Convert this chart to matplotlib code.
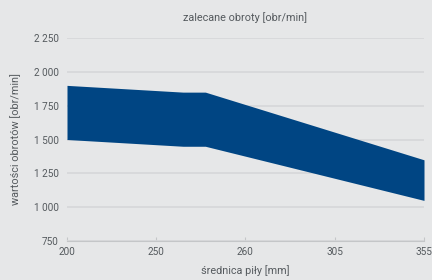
import matplotlib
matplotlib.use("Agg")
import matplotlib.pyplot as plt

# data
x_labels = ["200", "250", "260", "305", "355"]
x_points = [0, 1.3, 1.55, 4]
upper = [1900, 1850, 1850, 1350]
lower = [1500, 1450, 1450, 1050]
y_ticks = [750, 1000, 1250, 1500, 1750, 2000, 2250]

bg = "#e6e7e8"
fill_c = "#004583"
txt = "#555a5e"

plt.rcParams["font.family"] = ["Roboto", "DejaVu Sans"]

fig = plt.figure(figsize=(4.32, 2.80), dpi=100, facecolor=bg)
ax = fig.add_axes([67/432, 1-241/280, (424-67)/432, (241-38)/280], facecolor=bg)

ax.fill_between(x_points, lower, upper, color=fill_c, linewidth=0, zorder=3)

ax.set_xlim(0, 4)
ax.set_ylim(750, 2250)
ax.set_yticks(y_ticks)
ax.set_yticklabels([f"{v:,}".replace(",", " ") for v in y_ticks])
ax.set_xticks(range(len(x_labels)))
ax.set_xticklabels(x_labels)

for s in ["top", "right", "left"]:
    ax.spines[s].set_visible(False)
ax.spines["bottom"].set_color("#c4c6c8")
ax.spines["bottom"].set_linewidth(0.8)
ax.grid(axis="y", color="#d6d7d9", linewidth=1.2, zorder=0)
ax.set_axisbelow(True)
ax.tick_params(axis="y", length=0, labelsize=7.2, colors=txt, pad=6)
ax.tick_params(axis="x", direction="in", length=3, color="#c4c6c8", labelsize=7.2, labelcolor=txt, pad=4)

ax.set_title("zalecane obroty [obr/min]", fontsize=7.8, color=txt, pad=12)
ax.set_xlabel("średnica piły [mm]", fontsize=7.8, color=txt, labelpad=6)
ax.set_ylabel("wartości obrotów [obr/min]", fontsize=7.8, color=txt, labelpad=9)

fig.savefig("out.png", dpi=100, facecolor=bg)
